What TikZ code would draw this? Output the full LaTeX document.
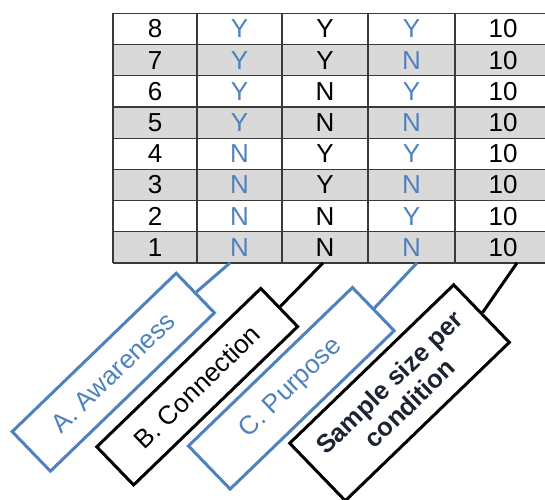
\documentclass[tikz,border=0pt]{standalone}
\usepackage{fontspec}
\setmainfont{Liberation Sans}
\usepackage{xcolor}
\usepackage{tikz}
\definecolor{awblue}{HTML}{4F81BD}
\definecolor{gridgray}{HTML}{3A3A3A}
\definecolor{rowgray}{HTML}{D9D9D9}
\definecolor{navy}{HTML}{1C2333}
\tikzset{
  gridline/.style={gridgray, line width=1.2pt},
  cell/.style={font=\fontsize{26}{31}\selectfont, inner sep=0pt},
  bluecell/.style={cell, text=awblue},
  factorbox/.style={draw, line width=3pt, rotate=44, minimum width=228pt, inner sep=0pt, fill=white, font=\fontsize{26}{31}\selectfont},
  bluebox/.style={factorbox, draw=awblue, text=awblue},
  blackbox/.style={factorbox, draw=black, text=black},
  link/.style={line width=3pt}
}

\begin{document}
\begin{tikzpicture}[x=1pt, y=-1pt]
  \useasboundingbox (0,0) rectangle (545,499);
  \fill[rowgray] (113,44.5) rectangle (551,75.7);
  \fill[rowgray] (113,106.9) rectangle (551,138.1);
  \fill[rowgray] (113,169.3) rectangle (551,200.5);
  \fill[rowgray] (113,231.7) rectangle (551,262.9);
  \draw[gridline] (113,13.3) -- (551,13.3);
  \draw[gridline] (113,44.5) -- (551,44.5);
  \draw[gridline] (113,75.7) -- (551,75.7);
  \draw[gridline] (113,106.9) -- (551,106.9);
  \draw[gridline] (113,138.1) -- (551,138.1);
  \draw[gridline] (113,169.3) -- (551,169.3);
  \draw[gridline] (113,200.5) -- (551,200.5);
  \draw[gridline] (113,231.7) -- (551,231.7);
  \draw[gridline] (113,262.9) -- (551,262.9);
  \draw[gridline] (113,13.3) -- (113,262.9);
  \draw[gridline] (197,13.3) -- (197,262.9);
  \draw[gridline] (282,13.3) -- (282,262.9);
  \draw[gridline] (368,13.3) -- (368,262.9);
  \draw[gridline] (455,13.3) -- (455,262.9);
  \node[cell] (r8a) at (155,28.9) {8};
  \node[bluecell] (r8b) at (239.5,28.9) {Y};
  \node[cell] (r8c) at (325,28.9) {Y};
  \node[bluecell] (r8d) at (411.5,28.9) {Y};
  \node[cell] (r8e) at (503,28.9) {10};
  \node[cell] (r7a) at (155,60.1) {7};
  \node[bluecell] (r7b) at (239.5,60.1) {Y};
  \node[cell] (r7c) at (325,60.1) {Y};
  \node[bluecell] (r7d) at (411.5,60.1) {N};
  \node[cell] (r7e) at (503,60.1) {10};
  \node[cell] (r6a) at (155,91.3) {6};
  \node[bluecell] (r6b) at (239.5,91.3) {Y};
  \node[cell] (r6c) at (325,91.3) {N};
  \node[bluecell] (r6d) at (411.5,91.3) {Y};
  \node[cell] (r6e) at (503,91.3) {10};
  \node[cell] (r5a) at (155,122.5) {5};
  \node[bluecell] (r5b) at (239.5,122.5) {Y};
  \node[cell] (r5c) at (325,122.5) {N};
  \node[bluecell] (r5d) at (411.5,122.5) {N};
  \node[cell] (r5e) at (503,122.5) {10};
  \node[cell] (r4a) at (155,153.7) {4};
  \node[bluecell] (r4b) at (239.5,153.7) {N};
  \node[cell] (r4c) at (325,153.7) {Y};
  \node[bluecell] (r4d) at (411.5,153.7) {Y};
  \node[cell] (r4e) at (503,153.7) {10};
  \node[cell] (r3a) at (155,184.9) {3};
  \node[bluecell] (r3b) at (239.5,184.9) {N};
  \node[cell] (r3c) at (325,184.9) {Y};
  \node[bluecell] (r3d) at (411.5,184.9) {N};
  \node[cell] (r3e) at (503,184.9) {10};
  \node[cell] (r2a) at (155,216.1) {2};
  \node[bluecell] (r2b) at (239.5,216.1) {N};
  \node[cell] (r2c) at (325,216.1) {N};
  \node[bluecell] (r2d) at (411.5,216.1) {Y};
  \node[cell] (r2e) at (503,216.1) {10};
  \node[cell] (r1a) at (155,247.3) {1};
  \node[bluecell] (r1b) at (239.5,247.3) {N};
  \node[cell] (r1c) at (325,247.3) {N};
  \node[bluecell] (r1d) at (411.5,247.3) {N};
  \node[cell] (r1e) at (503,247.3) {10};
  \coordinate (footA) at (230,262.9);
  \coordinate (footB) at (323,262.9);
  \coordinate (footC) at (417,262.9);
  \coordinate (footD) at (517,262.9);
  \node[bluebox, minimum height=55pt] (awareness) at (113.3,372.2) {A. Awareness};
  \node[blackbox, minimum height=53pt] (connection) at (197.2,386.7) {B. Connection};
  \node[bluebox, minimum height=60pt] (purpose) at (291.3,388.3) {C. Purpose};
  \node[blackbox, text=navy, minimum height=80pt, align=center, font=\bfseries\fontsize{25.5}{29}\selectfont] (samplesize) at (399.5,392.8) {Sample size per\\condition};
  \draw[link, awblue] (awareness.east) -- (footA);
  \draw[link, black] (connection.east) -- (footB);
  \draw[link, awblue] (purpose.east) -- (footC);
  \draw[link, black] (samplesize.east) -- (footD);
\end{tikzpicture}
\end{document}
